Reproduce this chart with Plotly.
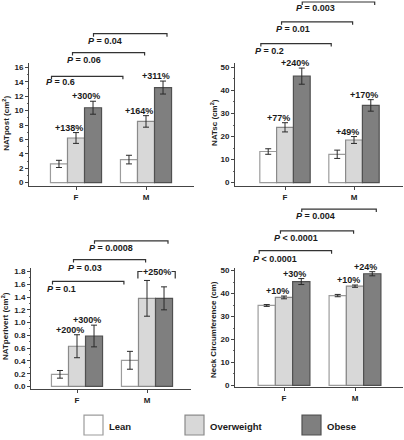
import plotly.graph_objects as go

# ---------------- data ----------------
groups = ["F", "M"]
series = ["Lean", "Overweight", "Obese"]

natpost_lean = [2.6, 3.2]
natpost_over = [6.2, 8.5]
natpost_obese = [10.4, 13.2]
natpost_lean_err = [0.5, 0.6]
natpost_over_err = [0.75, 0.8]
natpost_obese_err = [0.9, 0.9]
natpost_over_pct = ["+138%", "+164%"]
natpost_obese_pct = ["+300%", "+311%"]
natpost_p = ["= 0.6", "= 0.06", "= 0.04"]

natsc_lean = [13.5, 12.3]
natsc_over = [24.0, 18.5]
natsc_obese = [46.2, 33.5]
natsc_lean_err = [1.2, 1.8]
natsc_over_err = [2.0, 1.5]
natsc_obese_err = [3.5, 2.5]
natsc_over_pct = ["+77%", "+49%"]
natsc_obese_pct = ["+240%", "+170%"]
natsc_p = ["= 0.2", "= 0.01", "= 0.003"]

natperi_lean = [0.19, 0.41]
natperi_over = [0.63, 1.38]
natperi_obese = [0.79, 1.38]
natperi_lean_err = [0.06, 0.14]
natperi_over_err = [0.18, 0.28]
natperi_obese_err = [0.17, 0.18]
natperi_over_pct = ["+200%", None]
natperi_obese_pct = ["+300%", None]
natperi_m_pct = "+250%"
natperi_p = ["= 0.1", "= 0.03", "= 0.0008"]

neck_lean = [34.8, 39.1]
neck_over = [38.3, 43.2]
neck_obese = [45.2, 48.6]
neck_lean_err = [0.4, 0.5]
neck_over_err = [0.6, 0.5]
neck_obese_err = [1.3, 0.9]
neck_over_pct = ["+10%", "+10%"]
neck_obese_pct = ["+30%", "+24%"]
neck_p = ["< 0.0001", "< 0.0001", "= 0.004"]

y_titles = ["NATpost (cm<sup>2</sup>)", "NATsc (cm<sup>2</sup>)",
            "NATperivert (cm<sup>2</sup>)", "Neck Circumference (cm)"]

# ---------------- layout constants ----------------
W, H = 404, 440
FONT = "Liberation Sans, Arial, Helvetica, sans-serif"
fills = ["#ffffff", "#d8d8d8", "#7f7f7f"]
edges = ["#9c9c9c", "#8a8a8a", "#505050"]
BARGAP = 0.27
BW = (1 - BARGAP) / 3
offs = [-BW, 0.0, BW]


def py(p):
    return 1 - p / H


panels = [
    dict(means=[natpost_lean, natpost_over, natpost_obese],
         errs=[natpost_lean_err, natpost_over_err, natpost_obese_err],
         pct=[None, natpost_over_pct, natpost_obese_pct], p=natpost_p,
         ax_l=29, ax_r=194, f_px=76, m_px=146, ax_bot=187, ax_top=63,
         zero_px=183.3, top_tick=16, top_px=67, dtick=2, minor=1, fmt="d",
         title_x=6, title_y=124, br_y=[76, 52, 33], p_y=[82, 60, 40]),
    dict(means=[natsc_lean, natsc_over, natsc_obese],
         errs=[natsc_lean_err, natsc_over_err, natsc_obese_err],
         pct=[None, natsc_over_pct, natsc_obese_pct], p=natsc_p,
         ax_l=235, ax_r=403, f_px=285, m_px=354, ax_bot=187, ax_top=63,
         zero_px=183.3, top_tick=50, top_px=67, dtick=10, minor=5, fmt="d",
         title_x=214, title_y=123, br_y=[43, 21, 1], p_y=[50, 28, 7]),
    dict(means=[natperi_lean, natperi_over, natperi_obese],
         errs=[natperi_lean_err, natperi_over_err, natperi_obese_err],
         pct=[None, natperi_over_pct, natperi_obese_pct], p=natperi_p,
         ax_l=31, ax_r=191, f_px=77, m_px=147, ax_bot=392, ax_top=269,
         zero_px=389, top_tick=1.8, top_px=273, dtick=0.2, minor=0.1, fmt=".1f",
         title_x=5, title_y=328, br_y=[283, 261, 242], p_y=[291, 269, 249]),
    dict(means=[neck_lean, neck_over, neck_obese],
         errs=[neck_lean_err, neck_over_err, neck_obese_err],
         pct=[None, neck_over_pct, neck_obese_pct], p=neck_p,
         ax_l=235, ax_r=403, f_px=284, m_px=355, ax_bot=390, ax_top=269,
         zero_px=388, top_tick=50, top_px=272, dtick=10, minor=5, fmt="d",
         title_x=214, title_y=332, br_y=[252, 232, 210], p_y=[260, 239, 217]),
]

br_start = [-0.35, -0.05, 0.25]
br_end = [0.67, 0.98, 1.3]

fig = go.Figure()
shapes = []
annots = []
layout_axes = {}

for i, pn in enumerate(panels, start=1):
    xa, ya = f"x{i}", f"y{i}"
    sp = pn["m_px"] - pn["f_px"]
    xmin = -(pn["f_px"] - pn["ax_l"]) / sp
    xmax = xmin + (pn["ax_r"] - pn["ax_l"]) / sp
    u = (pn["zero_px"] - pn["top_px"]) / pn["top_tick"]
    ymin = -(pn["ax_bot"] - pn["zero_px"]) / u
    ymax = (pn["zero_px"] - pn["ax_top"]) / u

    for k in range(3):
        fig.add_trace(go.Bar(
            x=[0, 1], y=pn["means"][k], name=series[k], showlegend=False,
            xaxis=xa, yaxis=ya,
            marker=dict(color=fills[k], line=dict(color=edges[k], width=1.2)),
            error_y=dict(type="data", array=pn["errs"][k], color="#2a2a2a",
                         thickness=1, width=3),
        ))
        if pn["pct"][k] is not None:
            for g in range(2):
                t = pn["pct"][k][g]
                if t is None:
                    continue
                annots.append(dict(
                    x=g + offs[k], y=pn["means"][k][g] + pn["errs"][k][g],
                    xref=xa, yref=ya, text=f"<b>{t}</b>", showarrow=False,
                    xanchor="center", yanchor="bottom", xshift=-7, yshift=-2,
                    font=dict(family=FONT, size=9, color="#1a1a1a")))

    key = "" if i == 1 else str(i)
    layout_axes[f"xaxis{key}"] = dict(
        domain=[pn["ax_l"] / W, pn["ax_r"] / W], range=[xmin, xmax],
        anchor=ya, tickvals=[0, 1], ticktext=groups, ticks="outside",
        ticklen=3, tickcolor="#444", showline=True, linecolor="#444",
        linewidth=1, showgrid=False, zeroline=False,
        tickfont=dict(family=FONT, size=8, color="#222", weight="bold"),
        fixedrange=True)
    layout_axes[f"yaxis{key}"] = dict(
        domain=[py(pn["ax_bot"]), py(pn["ax_top"])], range=[ymin, ymax],
        anchor=xa, tick0=0, dtick=pn["dtick"], tickformat=pn["fmt"],
        ticks="outside", ticklen=3, tickcolor="#444", showline=True,
        linecolor="#444", linewidth=1, showgrid=False, zeroline=False,
        minor=dict(dtick=pn["minor"], ticks="outside", ticklen=1.5,
                   tickcolor="#666", showgrid=False),
        tickfont=dict(family=FONT, size=8, color="#222", weight="bold"),
        fixedrange=True)

    # y title
    annots.append(dict(x=pn["title_x"] / W, y=py(pn["title_y"]), xref="paper",
                       yref="paper", text=f"<b>{y_titles[i-1]}</b>",
                       textangle=-90, showarrow=False, xanchor="center",
                       yanchor="middle",
                       font=dict(family=FONT, size=8, color="#222")))

    # significance brackets
    for b in range(3):
        yl = py(pn["br_y"][b])
        ye = py(pn["br_y"][b] + 3)
        x0, x1 = br_start[b], br_end[b]
        shapes.append(dict(type="path", xref=xa, yref="paper",
                           path=f"M {x0},{ye} L {x0},{yl} L {x1},{yl} L {x1},{ye}",
                           line=dict(color="#333", width=1.2)))
        annots.append(dict(x=x0, y=py(pn["p_y"][b]), xref=xa, yref="paper",
                           text=f"<b><i>P</i> {pn['p'][b]}</b>", showarrow=False,
                           xanchor="left", yanchor="middle", xshift=-8,
                           font=dict(family=FONT, size=9, color="#1a1a1a")))

# special bracket over M overweight/obese in NATperivert panel
bx0, bx1 = 1 - 0.13, 1 + BW + 0.16
shapes.append(dict(type="path", xref="x3", yref="paper",
                   path=f"M {bx0},{py(280)} L {bx0},{py(273)} L {bx1},{py(273)} L {bx1},{py(280)}",
                   line=dict(color="#333", width=1.2)))
annots.append(dict(x=(bx0 + bx1) / 2, y=py(273), xref="x3", yref="paper",
                   text=f"<b>{natperi_m_pct}</b>", showarrow=False,
                   xanchor="center", yanchor="middle", bgcolor="#ffffff",
                   borderpad=0,
                   font=dict(family=FONT, size=9, color="#1a1a1a")))

# legend drawn manually
leg_box_x = [84, 185, 302]
for k in range(3):
    x0 = leg_box_x[k]
    shapes.append(dict(type="rect", xref="paper", yref="paper",
                       x0=x0 / W, x1=(x0 + 19) / W, y0=py(438), y1=py(418),
                       fillcolor=fills[k], line=dict(color=edges[k], width=1.2)))
    annots.append(dict(x=(x0 + 23) / W, y=py(429), xref="paper", yref="paper",
                       text=f"<b>{series[k]}</b>", showarrow=False,
                       xanchor="left", yanchor="middle",
                       font=dict(family=FONT, size=9.5, color="#1a1a1a")))

fig.update_layout(
    width=W, height=H, margin=dict(l=0, r=0, t=0, b=0),
    paper_bgcolor="white", plot_bgcolor="white",
    barmode="group", bargap=BARGAP, bargroupgap=0.0,
    showlegend=False, shapes=shapes, annotations=annots,
    **layout_axes,
)

fig.write_html(
    "out.html", config={"displayModeBar": False},
    post_script="document.body.style.margin='0';document.body.style.padding='0';"
                "document.body.style.overflow='hidden';")
